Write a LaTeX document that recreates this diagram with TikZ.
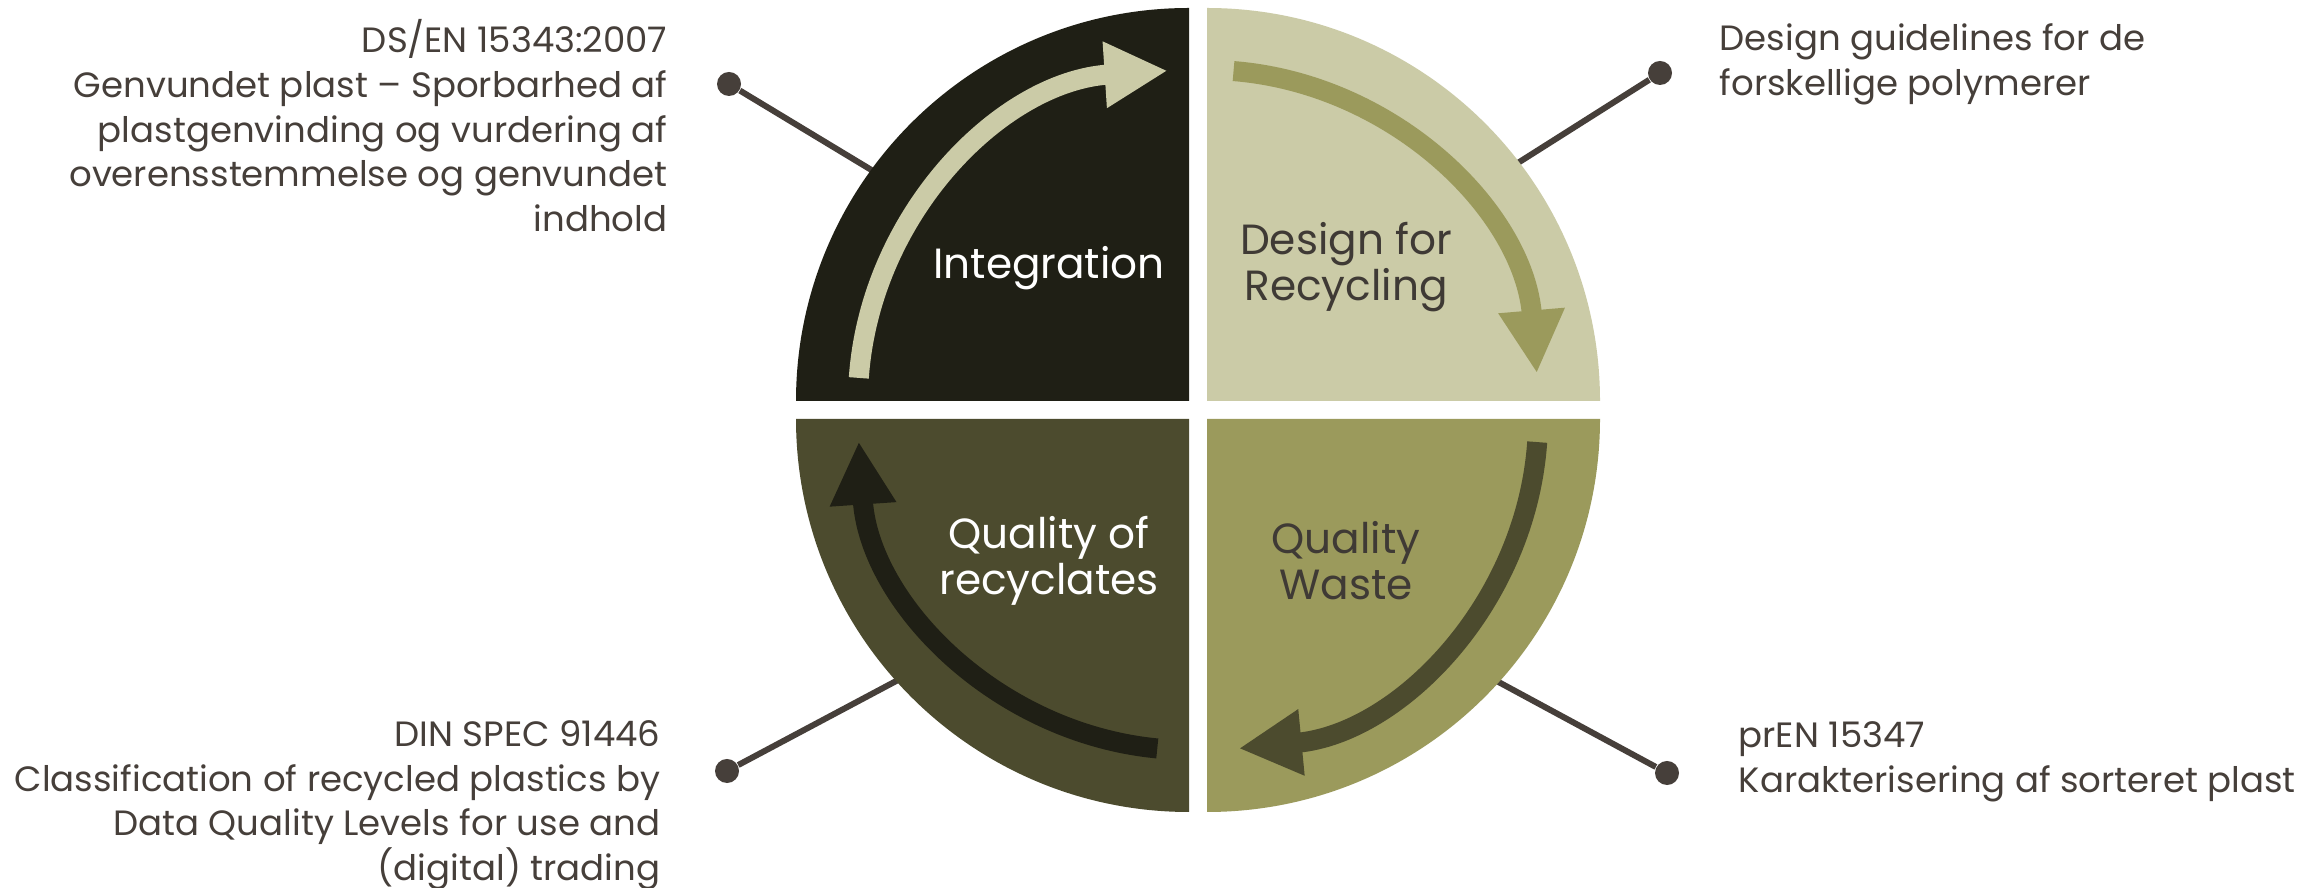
\documentclass[tikz,border=0pt]{standalone}
\usepackage{fontspec}
\setmainfont{Poppins}
\newfontfamily\sidefont[FakeStretch=1.01]{Poppins}
\usepackage{tikz}
\usetikzlibrary{shapes,arrows.meta,calc}
\usepackage{xcolor}
\definecolor{darkolive}{HTML}{1F1F15}
\definecolor{sage}{HTML}{CBCBA7}
\definecolor{olive}{HTML}{9B9A5C}
\definecolor{mossy}{HTML}{4C4B2E}
\definecolor{inkgray}{HTML}{463F3A}
\definecolor{labelgray}{HTML}{3F3A35}

\begin{document}
\begin{tikzpicture}[x=0.01cm, y=0.01cm, >={Triangle[width=0.62cm,length=0.63cm]}]
        \tikzstyle{cyclearrow}=[line width=0.2cm, ->]
        \tikzstyle{phase}=[font=\fontsize{12}{13.1}\selectfont, align=center, inner sep=0]
        \tikzstyle{norm}=[font=\sidefont\fontsize{10}{12.7}\selectfont, text=inkgray, inner sep=0]
        \tikzstyle{pin}=[circle, fill=inkgray, minimum size=0.24cm, inner sep=0]
        \tikzstyle{spoke}=[draw=inkgray, line width=0.06cm]

        \useasboundingbox[fill=white] (0,0) rectangle (2318,888);
        \coordinate (hub) at (1198,478);
        \coordinate (cTL) at ($(hub)+(-9,9)$);
        \coordinate (cTR) at ($(hub)+(9,9)$);
        \coordinate (cBR) at ($(hub)+(9,-9)$);
        \coordinate (cBL) at ($(hub)+(-9,-9)$);

        % spokes and pins, drawn first so the disc hides the inner ends
        \node[pin] (pTL) at (729,804) {};
        \node[pin] (pTR) at (1660,815) {};
        \node[pin] (pBL) at (727,117) {};
        \node[pin] (pBR) at (1667,115) {};
        \coordinate (eTL) at (888,708);
        \coordinate (eTR) at (1502,715);
        \coordinate (eBL) at (915,217);
        \coordinate (eBR) at (1480,216);
        \draw[spoke] (pTL) -- (eTL);
        \draw[spoke] (pTR) -- (eTR);
        \draw[spoke] (pBL) -- (eBL);
        \draw[spoke] (pBR) -- (eBR);

        % the four quarters
        \fill[darkolive] (cTL) -- ++(-393,0) arc (180:90:393) -- cycle;
        \fill[sage]      (cTR) -- ++(0,393) arc (90:0:393) -- cycle;
        \fill[olive]     (cBR) -- ++(393,0) arc (0:-90:393) -- cycle;
        \fill[mossy]     (cBL) -- ++(0,-393) arc (270:180:393) -- cycle;

        % cycle arrows
        \draw[cyclearrow, sage]      ($(cTL)+(176:331)$) arc (176:93.7:331);
        \draw[cyclearrow, olive]     ($(cTR)+(85.4:331)$) arc (85.4:4.8:331);
        \draw[cyclearrow, mossy]     ($(cBR)+(-4:331)$) arc (-4:-84.5:331);
        \draw[cyclearrow, darkolive] ($(cBL)+(264.5:331)$) arc (264.5:183.9:331);

        % phase labels
        \node[phase, text=white]     (integ) at ($(hub)+(-149,142)$) {Integration};
        \node[phase, text=labelgray] (dfr)   at ($(hub)+(148,143)$)  {Design for\\Recycling};
        \node[phase, text=labelgray] (qwaste) at ($(hub)+(148,-151)$) {Quality\\Waste};
        \node[phase, text=white]     (qrec)  at ($(hub)+(-149,-151)$) {Quality of\\recyclates};

        % standards
        \node[norm, anchor=north east, align=right] (dsen) at (668,869)
            {DS/EN 15343:2007\\Genvundet plast – Sporbarhed af\\plastgenvinding og vurdering af\\overensstemmelse og genvundet\\indhold};
        \node[norm, anchor=north west, align=left] (guide) at (1719,865)
            {Design guidelines for de\\forskellige polymerer};
        \node[norm, anchor=north east, align=right] (dinspec) at (661,168)
            {DIN SPEC 91446\\Classification of recycled plastics by\\Data Quality Levels for use and\\(digital) trading};
        \node[norm, anchor=north west, align=left] (pren) at (1738,167)
            {prEN 15347\\Karakterisering af sorteret plast};
\end{tikzpicture}
\end{document}
